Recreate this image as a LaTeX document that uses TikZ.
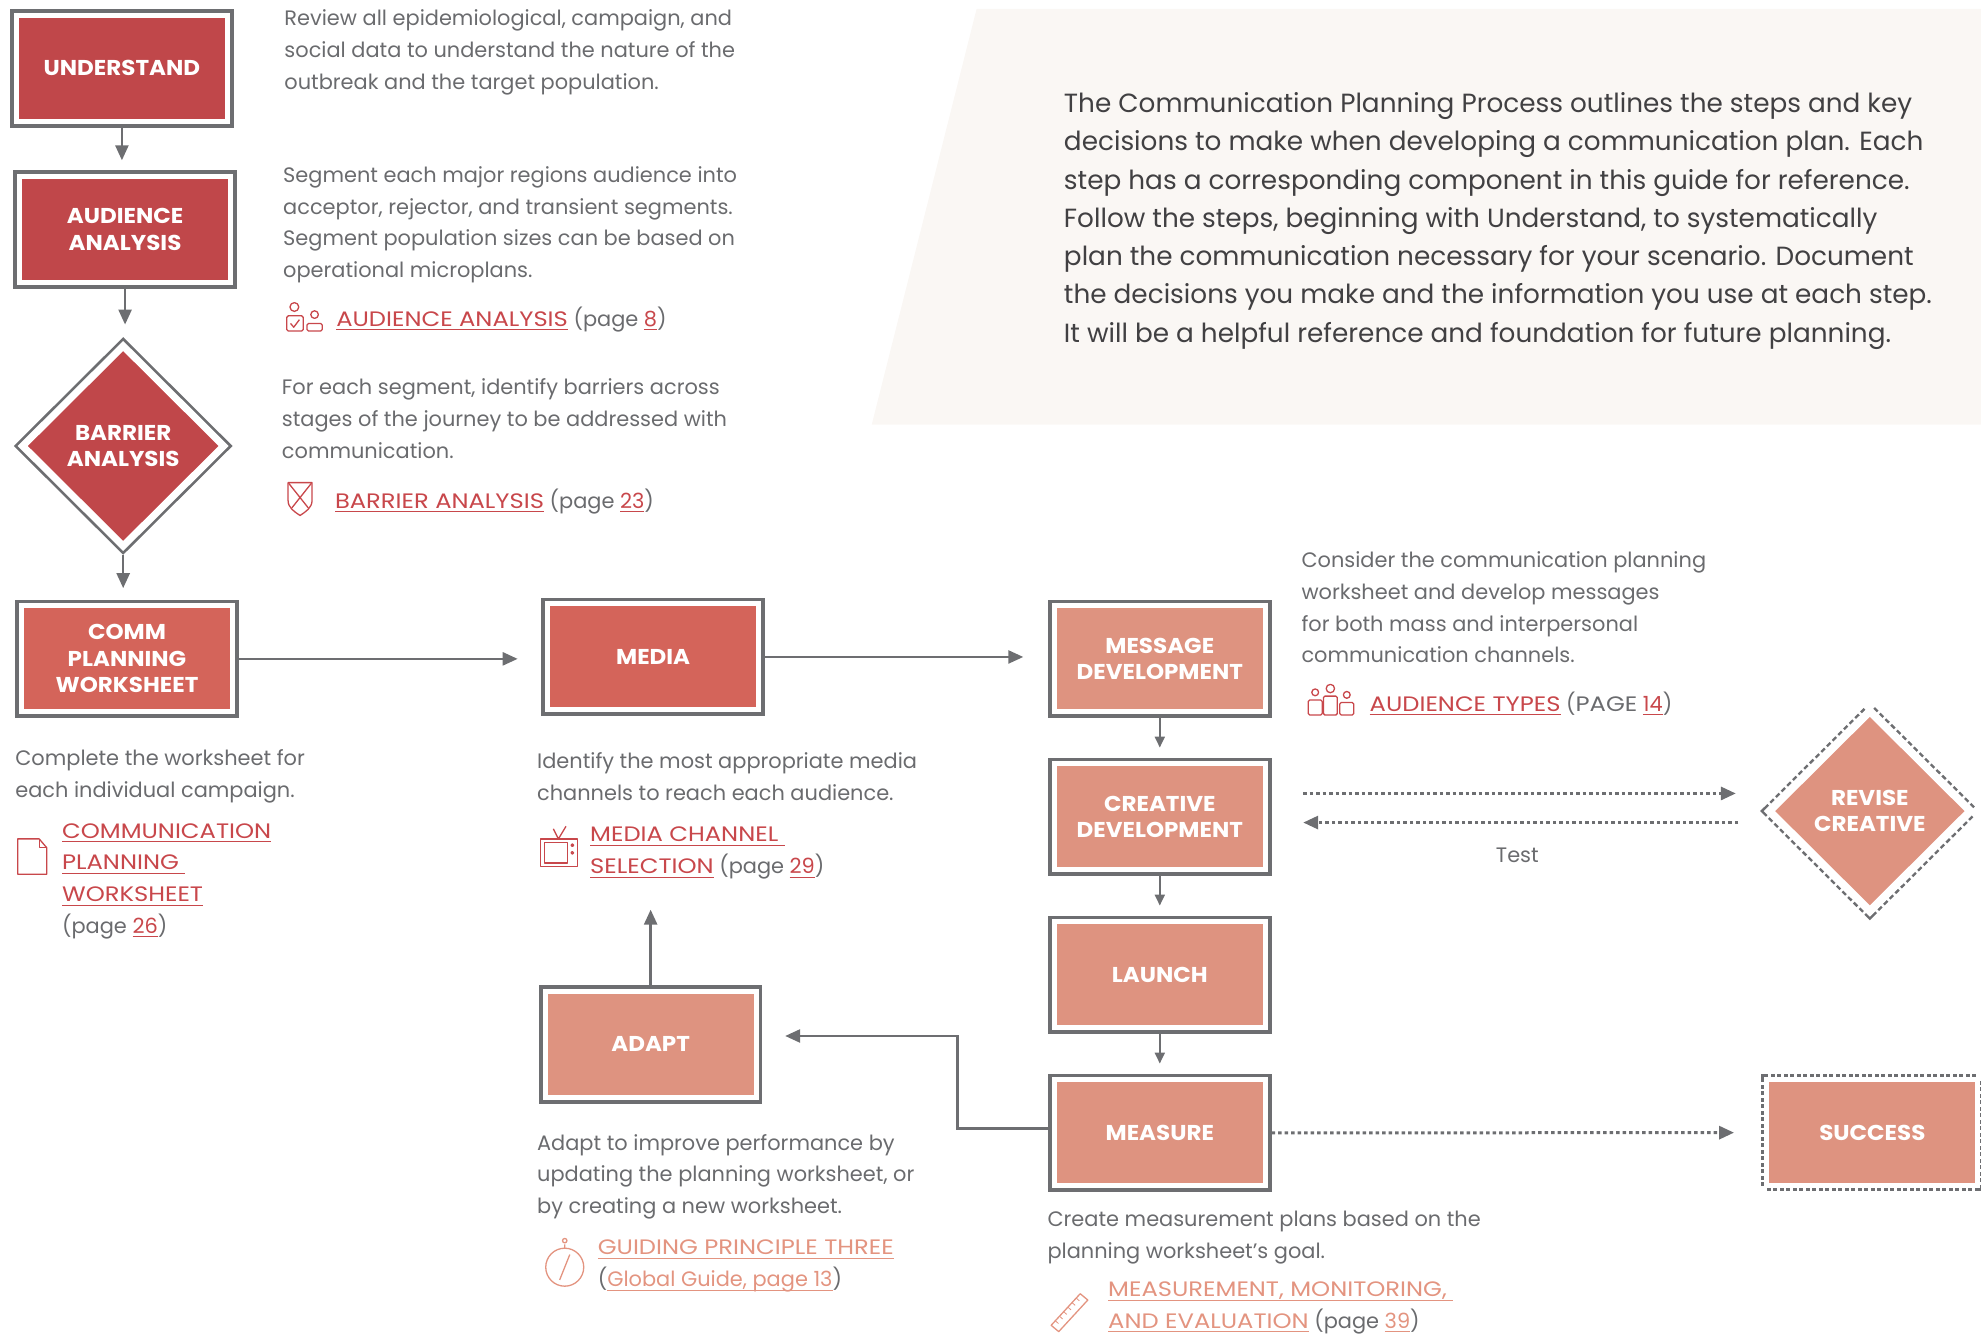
\documentclass[tikz,border=0pt]{standalone}
\usepackage{fontspec}
\setmainfont{Poppins}
\usetikzlibrary{positioning,arrows.meta,shapes.geometric}

\definecolor{darkred}{HTML}{C0474A}
\definecolor{midred}{HTML}{D4645A}
\definecolor{salmon}{HTML}{DE9380}
\definecolor{linegray}{HTML}{6D6E71}
\definecolor{textgray}{HTML}{6A6B6E}
\definecolor{linkred}{HTML}{C8474B}
\definecolor{linksalmon}{HTML}{E39480}
\definecolor{panelbg}{HTML}{FAF7F4}
\definecolor{paneltext}{HTML}{414042}

\newcommand\notefont{\fontsize{20.9}{31.8}\selectfont}
\newcommand\panelfont{\fontsize{26.3}{38.3}\selectfont}
\newcommand\stepfont{\fontsize{21.5}{26.5}\selectfont\bfseries\addfontfeature{FakeStretch=1.07}}
\newcommand\wide{\addfontfeature{FakeStretch=1.16}}

\newsavebox\lnkbox
\newcommand\lnk[1]{\sbox\lnkbox{#1}\rlap{\rule[-4pt]{\wd\lnkbox}{1.1pt}}\usebox\lnkbox}
\newcommand\lnkr[1]{{\color{linkred}\lnk{#1}}}
\newcommand\lnks[1]{{\color{linksalmon}\lnk{#1}}}

\begin{document}
\begin{tikzpicture}[
    x=1.2634pt,
    y=-1.2634pt,
    node distance=52pt,
    line join=miter
]


\tikzstyle{stepcore}=[
    rectangle,
    minimum width=211pt,
    minimum height=106pt,
    inner sep=0pt,
    outer sep=0pt,
    align=center,
    text=white,
    font=\stepfont,
    draw=white,
    line width=5pt
]
\tikzstyle{stepbox}=[stepcore, preaction={draw=linegray, line width=12.6pt}]
\tikzstyle{trialbox}=[stepcore, preaction={draw=linegray, line width=11pt, dash pattern=on 4pt off 2.5pt}]
\tikzstyle{stepdiamond}=[
    diamond,
    aspect=1,
    minimum width=201pt,
    minimum height=200pt,
    inner sep=0pt,
    outer sep=0pt,
    align=center,
    text=white,
    font=\stepfont,
    draw=white
]
\tikzstyle{flow}=[draw=linegray, line width=2.5pt, -{Triangle[length=15pt,width=13pt]}, shorten <=6.3pt]
\tikzstyle{flowthin}=[draw=linegray, line width=1.9pt, -{Triangle[length=11pt,width=10pt]}, shorten <=6.3pt]
\tikzstyle{trial}=[draw=linegray, line width=3pt, dash pattern=on 3.5pt off 3pt, -{Triangle[length=15pt,width=13pt]}]
\tikzstyle{note}=[anchor=north west, inner sep=0pt, align=left, font=\notefont, text=textgray]
\tikzstyle{icon}=[draw=linkred, line width=1.3pt, line join=round]

\useasboundingbox (0,0) rectangle (1568,1057);

\fill[panelbg] (773,7) -- (1575,7) -- (1575,336) -- (690,336) -- cycle;
\node[note, font=\panelfont, text=paneltext] (summary) at (842,73) {The Communication Planning Process outlines the steps and key\\decisions to make when developing a communication plan. Each\\step has a corresponding component in this guide for reference.\\Follow the steps, beginning with Understand, to systematically\\plan the communication necessary for your scenario. Document\\the decisions you make and the information you use at each step.\\It will be a helpful reference and foundation for future planning.};


\node[stepbox, fill=darkred] (understand) at (96.5,54) {UNDERSTAND};
\node[stepbox, fill=darkred] (audience) at (99,181.5) {AUDIENCE\\ANALYSIS};
\node[stepdiamond, fill=darkred, line width=7.1pt, preaction={draw=linegray, line width=12.5pt}] (barrier) at (97.5,353) {BARRIER\\ANALYSIS};
\node[stepbox, fill=midred] (comm) at (100.5,521.5) {COMM\\PLANNING\\WORKSHEET};
\node[stepbox, fill=midred] (media) at (517,520) {MEDIA};
\node[stepbox, fill=salmon] (message) at (918,521.5) {MESSAGE\\DEVELOPMENT};
\node[stepbox, fill=salmon, below=of message] (creative) {CREATIVE\\DEVELOPMENT};
\node[stepbox, fill=salmon, below=of creative] (launch) {LAUNCH};
\node[stepbox, fill=salmon, below=of launch] (measure) {MEASURE};
\node[stepbox, fill=salmon] (adapt) at (515,826.5) {ADAPT};
\node[trialbox, fill=salmon] (success) at (1482,896.5) {SUCCESS};
\node[stepdiamond, fill=salmon, line width=8pt, preaction={draw=linegray, line width=13pt, dash pattern=on 5pt off 3pt}] (revise) at (1480,642) {REVISE\\CREATIVE};


\draw[flow, shorten >=16pt] (understand.south) -- (understand.south |- audience.north);
\draw[flow, shorten >=21.4pt] (audience.south) -- (audience.south |- barrier.north);
\draw[flow, shorten <=8.8pt, shorten >=17.7pt] (barrier.south) -- (barrier.south |- comm.north);
\draw[flow, shorten >=30pt] (comm.east) -- (comm.east -| media.west);
\draw[flow, shorten >=31pt] (media.east) -- (media.east -| message.west);
\draw[flowthin, shorten >=16.3pt] (message) -- (creative);
\draw[flowthin, shorten >=16.3pt] (creative) -- (launch);
\draw[flowthin, shorten >=16.3pt] (launch) -- (measure);

\coordinate (turn) at (758,820);
\coordinate (adapt up) at (514,720);
\draw[flow, shorten >=29pt] ([yshift=4.4pt]measure.west) -| (turn) -- (turn -| adapt.east);
\draw[flow] (adapt.north) -- (adapt.north |- adapt up);

\draw[trial, shorten <=6.3pt, shorten >=32.8pt] (measure.east) -- (success.west);
\draw[trial, shorten <=37.9pt, shorten >=33.5pt] ([yshift=23.4pt]creative.east) -- ([yshift=23.4pt]creative.east -| revise.west);
\draw[trial, shorten <=31pt, shorten >=37.9pt] ([yshift=-5.7pt]creative.east -| revise.west) -- ([yshift=-5.7pt]creative.east);
\node[font=\notefont, text=textgray] (test) at (1201,677) {Test};


\node[note] (understand note) at (225,7.5) {Review all epidemiological, campaign, and\\social data to understand the nature of the\\outbreak and the target population.};

\node[note] (audience note) at (224,131.5) {Segment each major regions audience into\\acceptor, rejector, and transient segments.\\Segment population sizes can be based on\\operational microplans.};
\node[note] (audience link) at (266,242.5) {\lnkr{\wide AUDIENCE ANALYSIS} (page \lnkr{8})};
\draw[icon] (233,243) circle[radius=4.4pt];
\draw[icon, rounded corners=1.5pt] (227,262) rectangle (240,250);
\draw[icon] (230,256) -- (232.5,259) -- (237,253);
\draw[icon] (249,249) circle[radius=3.8pt];
\draw[icon, rounded corners=1.5pt] (243,262) -- (243,256) -- (255,256) -- (255,262) -- cycle;

\node[note] (barrier note) at (223,299.5) {For each segment, identify barriers across\\stages of the journey to be addressed with\\communication.};
\node[note] (barrier link) at (265,386.5) {\lnkr{\wide BARRIER ANALYSIS} (page \lnkr{23})};
\draw[icon] (228,382) -- (247,382) -- (247,396) .. controls (247,402) and (242,405) .. (237.5,408) .. controls (233,405) and (228,402) .. (228,396) -- cycle;
\draw[icon] (228.5,382.5) -- (244,402) (246.5,382.5) -- (231,402);

\node[note] (comm note) at (12,593.5) {Complete the worksheet for\\each individual campaign.};
\node[note] (comm link) at (49,651.5) {\lnkr{\wide COMMUNICATION}\\\lnkr{\wide PLANNING\ }\\\lnkr{\wide WORKSHEET}\\(page \lnkr{26})};
\draw[icon] (14,664) -- (31,664) -- (37,671) -- (37,692) -- (14,692) -- cycle;
\draw[icon] (31,664) -- (31,671) -- (37,671);

\node[note] (media note) at (425,595.5) {Identify the most appropriate media\\channels to reach each audience.};
\node[note] (media link) at (467,654.5) {\lnkr{\wide MEDIA CHANNEL\ }\\\lnkr{\wide SELECTION} (page \lnkr{29})};
\draw[icon] (428,664) rectangle (457,686);
\draw[icon] (431,667) rectangle (449,683);
\draw[icon] (453,669) circle[radius=1.3pt] (453,675) circle[radius=1.3pt];
\draw[icon] (438,656) -- (442,664) -- (448,654);

\node[note] (message note) at (1030,436.5) {Consider the communication planning\\worksheet and develop messages\\for both mass and interpersonal\\communication channels.};
\node[note] (message link) at (1084,547.5) {\lnkr{\wide AUDIENCE TYPES} ({\wide PAGE} \lnkr{14})};
\foreach \px/\hd/\top in {1041/3.4/554, 1053/4.2/551, 1066/3.4/556} {
    \draw[icon] (\px,\top-6) circle[radius=\hd pt];
    \draw[icon, rounded corners=1.5pt] (\px-5.5,566) -- (\px-5.5,\top) -- (\px+5.5,\top) -- (\px+5.5,566) -- cycle;
}

\node[note] (adapt note) at (425,897.5) {Adapt to improve performance by\\updating the planning worksheet, or\\by creating a new worksheet.};
\node[note] (adapt link) at (473,981.5) {\lnks{\wide GUIDING PRINCIPLE THREE}\\(\lnks{Global Guide, page 13})};
\draw[icon, draw=linksalmon] (447,1003) circle[radius=19pt];
\draw[icon, draw=linksalmon] (447,988) -- (447,985) (447,982) circle[radius=2.2pt];
\draw[icon, draw=linksalmon] (443,1013) -- (447,1003) -- (451,993);

\node[note] (measure note) at (829,958.5) {Create measurement plans based on the\\planning worksheet's goal.};
\node[note] (measure link) at (877,1014.5) {\lnks{\wide MEASUREMENT, MONITORING,\ }\\\lnks{\wide AND EVALUATION} (page \lnks{39})};
\draw[icon, draw=linksalmon] (832,1049) -- (855,1024) -- (861,1029) -- (838,1054) -- cycle;
\foreach \t in {1,...,6} {
    \draw[icon, draw=linksalmon, line width=0.8pt] ({832+3.3*\t},{1049-3.6*\t}) -- ++(2.5,2.2);
}

\end{tikzpicture}
\end{document}
